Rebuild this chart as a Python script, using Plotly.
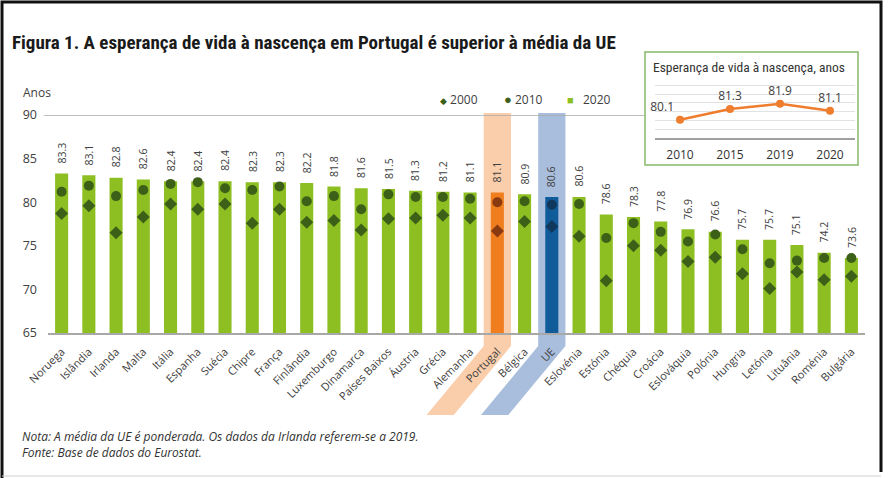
import plotly.graph_objects as go

# ---------------- data ----------------
countries = ["Noruega", "Islândia", "Irlanda", "Malta", "Itália", "Espanha", "Suécia", "Chipre",
             "França", "Finlândia", "Luxemburgo", "Dinamarca", "Países Baixos", "Áustria", "Grécia",
             "Alemanha", "Portugal", "Bélgica", "UE", "Eslovénia", "Estónia", "Chéquia", "Croácia",
             "Eslováquia", "Polónia", "Hungria", "Letónia", "Lituânia", "Roménia", "Bulgária"]
v2020 = [83.3, 83.1, 82.8, 82.6, 82.4, 82.4, 82.4, 82.3, 82.3, 82.2, 81.8, 81.6, 81.5, 81.3, 81.2,
         81.1, 81.1, 80.9, 80.6, 80.6, 78.6, 78.3, 77.8, 76.9, 76.6, 75.7, 75.7, 75.1, 74.2, 73.6]
v2010 = [81.2, 81.9, 80.7, 81.4, 82.1, 82.3, 81.6, 81.4, 81.8, 80.1, 80.7, 79.2, 80.9, 80.6, 80.6,
         80.4, 80.0, 80.1, 79.7, 79.8, 75.9, 77.6, 76.6, 75.5, 76.3, 74.6, 73.0, 73.3, 73.6, 73.6]
v2000 = [78.7, 79.6, 76.5, 78.3, 79.8, 79.2, 79.8, 77.6, 79.2, 77.7, 77.9, 76.8, 78.1, 78.2, 78.5,
         78.2, 76.7, 77.8, 77.2, 76.1, 71.0, 75.0, 74.5, 73.2, 73.7, 71.8, 70.1, 72.0, 71.1, 71.5]
y_ticks = [65, 70, 75, 80, 85, 90]

inset_years = ["2010", "2015", "2019", "2020"]
inset_values = [80.1, 81.3, 81.9, 81.1]

# ---------------- styles ----------------
GREEN = "#8DBE22"
ORANGE = "#F07E1E"
BLUE = "#105C9B"
MK_GREEN = "#3D6019"
MK_ORANGE = "#8A3A10"
MK_BLUE = "#10385D"
TXT = "#404040"
FONT = "Open Sans, Noto Sans, sans-serif"
NARROW = "Liberation Sans Narrow, Arial Narrow, Roboto Condensed, sans-serif"

def bar_col(c):
    return ORANGE if c == "Portugal" else BLUE if c == "UE" else GREEN

def mk_col(c):
    return MK_ORANGE if c == "Portugal" else MK_BLUE if c == "UE" else MK_GREEN

W, H = 888, 478
ML, MR, MT, MB = 48, 23, 40, 145

def px(x):
    return (x - ML) / (W - ML - MR)

def py(y):
    return (H - MB - y) / (H - MT - MB)

fig = go.Figure()

fig.add_trace(go.Bar(
    x=countries, y=v2020, width=0.48, name="2020",
    marker=dict(color=[bar_col(c) for c in countries], line=dict(width=0)),
    showlegend=False, hoverinfo="x+y"))
fig.add_trace(go.Scatter(
    x=countries, y=v2010, mode="markers", name="2010",
    marker=dict(symbol="circle", size=10, color=[mk_col(c) for c in countries]),
    showlegend=False))
fig.add_trace(go.Scatter(
    x=countries, y=v2000, mode="markers", name="2000",
    marker=dict(symbol="diamond", size=10, color=[mk_col(c) for c in countries]),
    showlegend=False))

# inset line chart
fig.add_trace(go.Scatter(
    x=inset_years, y=inset_values, mode="lines+markers+text",
    text=[f"{v:.1f}" for v in inset_values],
    textposition=["top left", "top center", "top center", "top center"],
    textfont=dict(family=FONT, size=12, color=TXT),
    line=dict(color="#EE7D2D", width=2.5),
    marker=dict(color="#EE7D2D", size=8),
    xaxis="x2", yaxis="y2", showlegend=False, cliponaxis=False))

# value labels above bars
annotations = []
for c, v in zip(countries, v2020):
    annotations.append(dict(
        x=c, y=v, xref="x", yref="y", text=f"{v:.1f}", showarrow=False,
        textangle=-90, yanchor="bottom", xanchor="center", yshift=8,
        font=dict(family=FONT, size=10.5, color=TXT)))

# title, axis title, legend, notes
annotations += [
    dict(x=px(10), y=py(42), xref="paper", yref="paper", xanchor="left", yanchor="middle",
         text="<b>Figura 1. A esperança de vida à nascença em Portugal é superior à média da UE</b>",
         showarrow=False, font=dict(family=NARROW, size=19, color="#1A1A1A")),
    dict(x=px(21), y=py(92), xref="paper", yref="paper", xanchor="left", yanchor="middle",
         text="Anos", showarrow=False, font=dict(family=FONT, size=12, color=TXT)),
    dict(x=px(438), y=py(99), xref="paper", yref="paper", xanchor="left", yanchor="middle",
         text=f"<span style='color:{MK_GREEN};font-size:9px'>◆</span> 2000", showarrow=False,
         font=dict(family=FONT, size=12, color=TXT)),
    dict(x=px(502), y=py(99), xref="paper", yref="paper", xanchor="left", yanchor="middle",
         text=f"<span style='color:{MK_GREEN};font-size:13px'>●</span> 2010", showarrow=False,
         font=dict(family=FONT, size=12, color=TXT)),
    dict(x=px(565), y=py(99), xref="paper", yref="paper", xanchor="left", yanchor="middle",
         text=f"<span style='color:{GREEN};font-size:11px'>■</span>   2020", showarrow=False,
         font=dict(family=FONT, size=12, color=TXT)),
    dict(x=px(20), y=py(436), xref="paper", yref="paper", xanchor="left", yanchor="middle",
         text="<i>Nota: A média da UE é ponderada. Os dados da Irlanda referem-se a 2019.</i>",
         showarrow=False, font=dict(family=FONT, size=12, color="#333333")),
    dict(x=px(20), y=py(453), xref="paper", yref="paper", xanchor="left", yanchor="middle",
         text="<i>Fonte: Base de dados do Eurostat.</i>",
         showarrow=False, font=dict(family=FONT, size=12, color="#333333")),
    dict(x=px(651), y=py(67), xref="paper", yref="paper", xanchor="left", yanchor="middle",
         text="Esperança de vida à nascença, anos", showarrow=False,
         font=dict(family=NARROW, size=13.5, color="#333333")),
]

# highlight bands (Portugal, UE)
shapes = []
y_top, y_bend, y_bot = py(113), py(346), py(415)
slant = 2.1
for c, col in (("Portugal", "#FACDAB"), ("UE", "#A9BEDD")):
    i = countries.index(c)
    path = (f"M {i-0.5} {y_top} L {i+0.5} {y_top} L {i+0.5} {y_bend} "
            f"L {i+0.5-slant} {y_bot} L {i-0.5-slant} {y_bot} L {i-0.5} {y_bend} Z")
    shapes.append(dict(type="path", path=path, xref="x", yref="paper",
                       fillcolor=col, line=dict(width=0), layer="below"))

# 90 line
shapes.append(dict(type="line", xref="paper", yref="y", x0=px(44), x1=px(646), y0=90, y1=90,
                   line=dict(color="#A8A8A8", width=1.5), layer="below"))
# inset box
shapes.append(dict(type="rect", xref="paper", yref="paper", x0=px(645), x1=px(858),
                   y0=py(165), y1=py(52), fillcolor="white",
                   line=dict(color="#86B96C", width=1.5), layer="below"))
# outer frame
shapes.append(dict(type="path", xref="paper", yref="paper",
                   path=f"M {px(2)} {py(478)} L {px(2)} {py(2)} L {px(881)} {py(2)} L {px(881)} {py(472)}",
                   line=dict(color="#111111", width=3), layer="above"))
shapes.append(dict(type="line", xref="paper", yref="paper", x0=px(2), x1=px(881),
                   y0=py(476), y1=py(476), line=dict(color="#D0D0D0", width=1), layer="above"))

fig.update_layout(
    width=W, height=H,
    margin=dict(l=ML, r=MR, t=MT, b=MB, pad=0),
    paper_bgcolor="white", plot_bgcolor="rgba(0,0,0,0)",
    font=dict(family=FONT, color=TXT),
    bargap=0.5, showlegend=False,
    annotations=annotations, shapes=shapes,
    xaxis=dict(type="category", range=[-0.5, len(countries) - 0.5], tickangle=-45,
               showline=True, linecolor="#A8A8A8", linewidth=2, showgrid=False,
               ticks="", tickfont=dict(family=FONT, size=11, color=TXT), ticklabelstandoff=6),
    yaxis=dict(domain=[0, py(115)], range=[65, 90], tickvals=y_ticks, showgrid=False,
               zeroline=False, showline=False, ticks="",
               tickfont=dict(family=FONT, size=12.5, color=TXT), ticklabelstandoff=10),
    xaxis2=dict(domain=[px(655), px(855)], anchor="y2", type="category",
                range=[-0.5, 3.5], showline=True, linecolor="#A0A0A0", linewidth=1.5,
                showgrid=False, ticks="", tickfont=dict(family=FONT, size=12, color="#333333"),
                ticklabelstandoff=5),
    yaxis2=dict(domain=[py(138.3), py(76.3)], anchor="x2", range=[78, 85], dtick=1,
                showgrid=True, gridcolor="#E2E2E2", gridwidth=1, zeroline=False,
                showticklabels=False, ticks=""),
)

fig.write_html("out.html", config={"displayModeBar": False},
               post_script="document.body.style.margin='0px';document.body.style.overflow='hidden';")
